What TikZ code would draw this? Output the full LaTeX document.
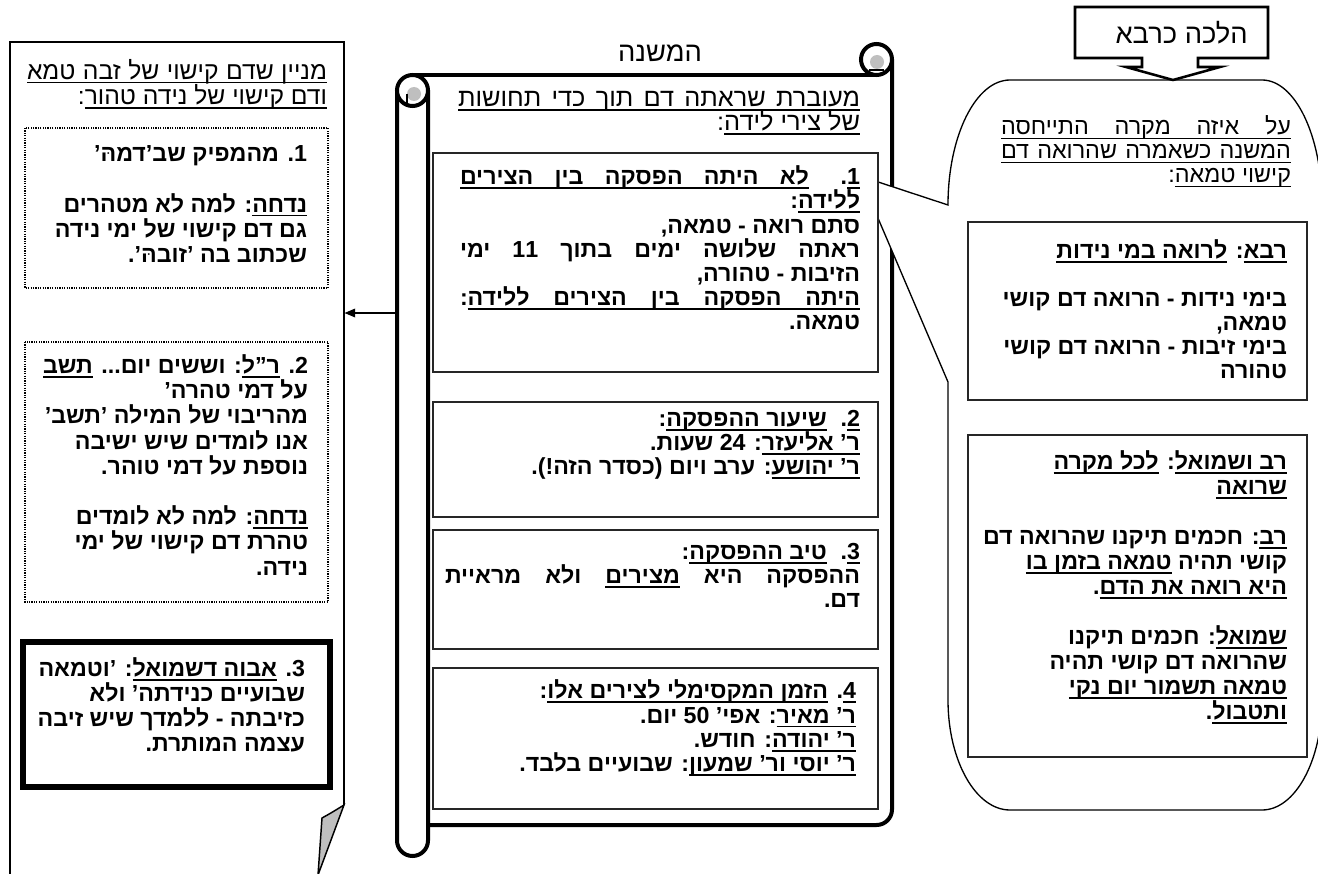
\documentclass[tikz,border=0pt]{standalone}
\usepackage{fontspec}
\setmainfont{Liberation Sans}
\newfontfamily\heb[Script=Hebrew]{Liberation Sans}
\TeXXeTstate=1
\usetikzlibrary{arrows.meta}
\newdimen\px \px=0.75pt
\newdimen\bs \newdimen\sh \newdimen\sd
\newcommand\setbs[1]{\bs=#1\px \sh=0.5\bs \advance\sh by 6.5\px \sd=0.5\bs \advance\sd by -6.5\px}
\newcommand\strutR{\vrule height\sh depth\sd width0pt}
\newcommand\Rl[1]{\hbox to\hsize{\strutR\hss\beginR#1\endR}}
\newcommand\Jl[1]{\hbox to\hsize{\strutR\beginR#1\endR}}
\newcommand\ul[1]{{\setbox0\hbox{\beginR#1\endR}\dp0=0pt\vtop{\box0\kern1.9pt\hrule height1.25pt}}}
\newcommand\ulsp{\leaders\hrule height-1.9pt depth3.15pt\hskip\fontdimen2\font plus 1fil}
\newcommand\blk[2]{\vbox{\hsize=#1\px\baselineskip=\bs\lineskip=0pt\lineskiplimit=-100pt\parindent=0pt #2}}
\newcommand\fr[1]{\heb\mdseries\fontsize{#1pt}{18pt}\selectfont}
\newcommand\fb{\heb\bfseries\fontsize{17.4pt}{18pt}\selectfont}
\newcommand\nm[1]{#1\kern0pt.}
\begin{document}
\begin{tikzpicture}[x=0.75pt,y=-0.75pt,
  txt/.style={inner sep=0pt,outer sep=0pt,anchor=north east},
  lnpanel/.style={line width=1.1pt},
  lnbox/.style={line width=1pt,draw=black!85},
  dotbox/.style={line width=0.9pt,dash pattern=on 0.9pt off 0.9pt},
  thickbox/.style={line width=3.8pt},
  scrl/.style={line width=3pt},
  lncall/.style={line width=1pt}]
\useasboundingbox (0,0) rectangle (1318,874);
% ---------------- left panel ----------------
\draw[lnpanel] (10,874) -- (10,42) -- (344,42) -- (344,805);
\filldraw[lnpanel,fill=black!25] (344,805) -- (318,875) -- (322,818) .. controls (331,813) .. (344,805) -- cycle;
\node[txt] (lhead) at (327,59) {\fr{18.5}\setbs{25.5}\blk{300}{%
\Jl{\ul{מניין}\ulsp\ul{שדם}\ulsp\ul{קישוי}\ulsp\ul{של}\ulsp\ul{זבה}\ulsp\ul{טמא}}
\Rl{\ul{ודם קישוי של נידה טהור}:}}};
\draw[dotbox] (25,128) rectangle (328,288);
\node[txt] (lb1) at (307,142.4) {\fb\setbs{25.3}\blk{280}{%
\Rl{\nm{1} מהמפיק שב’דמהּ’}
\Rl{}
\Rl{\ul{נדחה}: למה לא מטהרים}
\Rl{גם דם קישוי של ימי נידה}
\Rl{שכתוב בה ’זובהּ’.}}};
\draw[dotbox] (25,342) rectangle (328,602);
\node[txt] (lb2) at (308,354.4) {\fb\setbs{25.2}\blk{285}{%
\Rl{\nm{2} \ul{ר”ל}: וששים יום... \ul{תשב}}
\Rl{על דמי טהרה’}
\Rl{מהריבוי של המילה ’תשב’}
\Rl{אנו לומדים שיש ישיבה}
\Rl{נוספת על דמי טוהר.}
\Rl{}
\Rl{\ul{נדחה}: למה לא לומדים}
\Rl{טהרת דם קישוי של ימי}
\Rl{נידה.}}};
\draw[thickbox] (23,642) rectangle (330,787);
\node[txt] (lb3) at (305,657.5) {\fb\setbs{25}\blk{285}{%
\Rl{\nm{3} \ul{אבוה דשמואל}: ’וטמאה}
\Rl{שבועיים כנידתה’ ולא}
\Rl{כזיבתה - ללמדך שיש זיבה}
\Rl{עצמה המותרת.}}};
% ---------------- scroll ----------------
\node[inner sep=0pt] (mtitle) at (660,53) {\fr{20.5}\beginR המשנה\endR};
\draw[scrl] (412.5,75) -- (876.5,75);
\draw[scrl] (892,59.5) -- (892,809.5) arc[start angle=0,end angle=90,radius=15.5] -- (428,825);
\draw[scrl,fill=white] (397,90.5) -- (397,840.5) arc[start angle=180,end angle=0,radius=15.5] -- (428,90.5);
\draw[scrl,fill=white] (412.5,90.5) circle (15.5);
\draw[scrl,fill=white] (876.5,59.5) circle (15.5);
\fill[black!25] (414,94) circle (7);
\draw[line width=2pt] (407,94) -- (407,104);
\fill[black!25] (877,62) circle (7);
\draw[line width=2pt] (869,70) -- (884,70);
\node[txt] (mhead) at (860,88) {\fr{19}\setbs{24}\blk{402}{%
\Jl{\ul{מעוברת}\ulsp\ul{שראתה}\ulsp\ul{דם}\ulsp\ul{תוך}\ulsp\ul{כדי}\ulsp\ul{תחושות}}
\Rl{\ul{של צירי לידה}:}}};
% ---------------- right callout ----------------
\coordinate (tip) at (860,176);
\filldraw[lncall,fill=white] (1010,80) -- (1262,80)
  arc[start angle=-90,end angle=0,x radius=60,y radius=125] -- (1322,700)
  arc[start angle=0,end angle=90,x radius=60,y radius=110] -- (1010,810)
  arc[start angle=90,end angle=180,x radius=62,y radius=110] -- (948,382)
  -- (tip) -- (948,205)
  arc[start angle=180,end angle=270,x radius=62,y radius=125] -- cycle;
% middle boxes
\filldraw[lnbox,fill=white] (433,153) rectangle (878,372);
\node[txt] (mb1) at (860,165.9) {\fb\setbs{24.2}\blk{400}{%
\Jl{\ul{1}. \hskip1em\ul{לא}\ulsp\ul{היתה}\ulsp\ul{הפסקה}\ulsp\ul{בין}\ulsp\ul{הצירים}}
\Rl{\ul{ללידה}:}
\Rl{סתם רואה - טמאה,}
\Jl{ראתה שלושה ימים בתוך 11 ימי}
\Rl{הזיבות - טהורה,}
\Jl{\ul{היתה}\ulsp\ul{הפסקה}\ulsp\ul{בין}\ulsp\ul{הצירים}\ulsp\ul{ללידה}:}
\Rl{טמאה.}}};
\filldraw[lnbox,fill=white] (433,402) rectangle (878,517);
\node[txt] (mb2) at (860,408) {\fb\setbs{24}\blk{400}{%
\Rl{\ul{2}.\hskip0.6em \ul{שיעור ההפסקה}:}
\Rl{\ul{ר’ אליעזר}: 24 שעות.}
\Rl{\ul{ר’ יהושע}: ערב ויום (כסדר הזה!).}}};
\filldraw[lnbox,fill=white] (433,530) rectangle (878,649);
\node[txt] (mb3) at (860,541) {\fb\setbs{24}\blk{415}{%
\Rl{\ul{3}.\hskip0.6em \ul{טיב ההפסקה}:}
\Jl{ההפסקה היא \ul{מצירים} ולא מראיית}
\Rl{דם.}}};
\filldraw[lnbox,fill=white] (433,668) rectangle (878,809);
\node[txt] (mb4) at (856,680) {\fb\setbs{24.3}\blk{410}{%
\Rl{\ul{4}. \ul{הזמן המקסימלי לצירים אלו}:}
\Rl{\ul{ר’ מאיר}: אפי’ 50 יום.}
\Rl{\ul{ר’ יהודה}: חודש.}
\Rl{\ul{ר’ יוסי ור’ שמעון}: שבועיים בלבד.}}};
% halacha box
\filldraw[line width=1.9pt,fill=white] (1075,7) -- (1268,7) -- (1268,58) -- (1198,58) -- (1198,67) -- (1220,67) -- (1173,80) -- (1126,67) -- (1142,67) -- (1142,58) -- (1075,58) -- cycle;
\node[inner sep=0pt,anchor=east] (halacha) at (1248,33) {\fr{20.5}\beginR הלכה כרבא\endR};
% right texts
\node[txt] (rhead) at (1291,116) {\fr{17.5}\setbs{24}\blk{290}{%
\Jl{\ul{על}\ulsp\ul{איזה}\ulsp\ul{מקרה}\ulsp\ul{התייחסה}}
\Jl{\ul{המשנה}\ulsp\ul{כשאמרה}\ulsp\ul{שהרואה}\ulsp\ul{דם}}
\Rl{\ul{קישוי טמאה}:}}};
\filldraw[lnbox,fill=white] (968,222) rectangle (1307,400);
\node[txt] (rava) at (1287,240) {\fb\setbs{24}\blk{315}{%
\Rl{\ul{רבא}: \ul{לרואה במי נידות}}
\Rl{}
\Rl{בימי נידות - הרואה דם קושי}
\Rl{טמאה,}
\Rl{בימי זיבות - הרואה דם קושי}
\Rl{טהורה}}};
\filldraw[lnbox,fill=white] (968,435) rectangle (1307,757);
\node[txt] (rav) at (1287,450.5) {\fb\setbs{25}\blk{315}{%
\Rl{\ul{רב ושמואל}: \ul{לכל מקרה}}
\Rl{\ul{שרואה}}
\Rl{}
\Rl{\ul{רב}: חכמים תיקנו שהרואה דם}
\Rl{קושי תהיה \ul{טמאה בזמן בו}}
\Rl{\ul{היא רואה את הדם}.}
\Rl{}
\Rl{\ul{שמואל}: חכמים תיקנו}
\Rl{שהרואה דם קושי תהיה}
\Rl{\ul{טמאה תשמור יום נקי}}
\Rl{\ul{ותטבול}.}}};
% arrow
\coordinate (scrollW) at (397,313);
\coordinate (panelE) at (344.5,313);
\draw[line width=1pt,-{Triangle[length=8pt,width=6.5pt]}] (scrollW) -- (panelE);
\end{tikzpicture}
\end{document}
